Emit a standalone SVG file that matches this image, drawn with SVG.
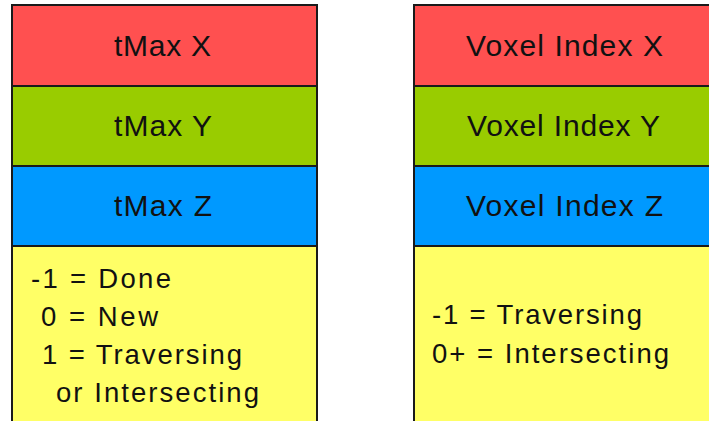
<svg xmlns="http://www.w3.org/2000/svg" width="709" height="421" viewBox="0 0 709 421">
<style>
.cell{stroke:#1a1a1a;stroke-width:2}
.r{fill:#FF5050}.g{fill:#99CC00}.b{fill:#0099FF}.y{fill:#FFFF66}
text{font-family:"Liberation Sans",Arial,sans-serif;fill:#111}
.h{font-size:30px}.t{font-size:27.5px}
</style>
<rect width="709" height="421" fill="#ffffff"/>
<g id="left">
<rect class="cell r" x="12" y="5" width="305" height="81"/>
<rect class="cell g" x="12" y="86" width="305" height="80"/>
<rect class="cell b" x="12" y="166" width="305" height="80"/>
<rect class="cell y" x="12" y="246" width="305" height="185"/>
<text class="h" x="114" y="56" textLength="97" lengthAdjust="spacing">tMax X</text>
<text class="h" x="114" y="136" textLength="98" lengthAdjust="spacing">tMax Y</text>
<text class="h" x="114" y="216" textLength="98" lengthAdjust="spacing">tMax Z</text>
<text class="t" x="31" y="288" textLength="140" lengthAdjust="spacing">-1 = Done</text>
<text class="t" x="41" y="326" textLength="117" lengthAdjust="spacing">0 = New</text>
<text class="t" x="42" y="364" textLength="200" lengthAdjust="spacing">1 = Traversing</text>
<text class="t" x="56" y="402" textLength="203" lengthAdjust="spacing">or Intersecting</text>
</g>
<g id="right">
<rect class="cell r" x="414" y="5" width="305" height="81"/>
<rect class="cell g" x="414" y="86" width="305" height="80"/>
<rect class="cell b" x="414" y="166" width="305" height="80"/>
<rect class="cell y" x="414" y="246" width="305" height="185"/>
<text class="h" x="466" y="56" textLength="197" lengthAdjust="spacing">Voxel Index X</text>
<text class="h" x="467" y="136" textLength="193" lengthAdjust="spacing">Voxel Index Y</text>
<text class="h" x="466" y="216" textLength="197" lengthAdjust="spacing">Voxel Index Z</text>
<text class="t" x="432" y="324" textLength="210" lengthAdjust="spacing">-1 = Traversing</text>
<text class="t" x="432" y="363" textLength="237" lengthAdjust="spacing">0+ = Intersecting</text>
</g>
</svg>
